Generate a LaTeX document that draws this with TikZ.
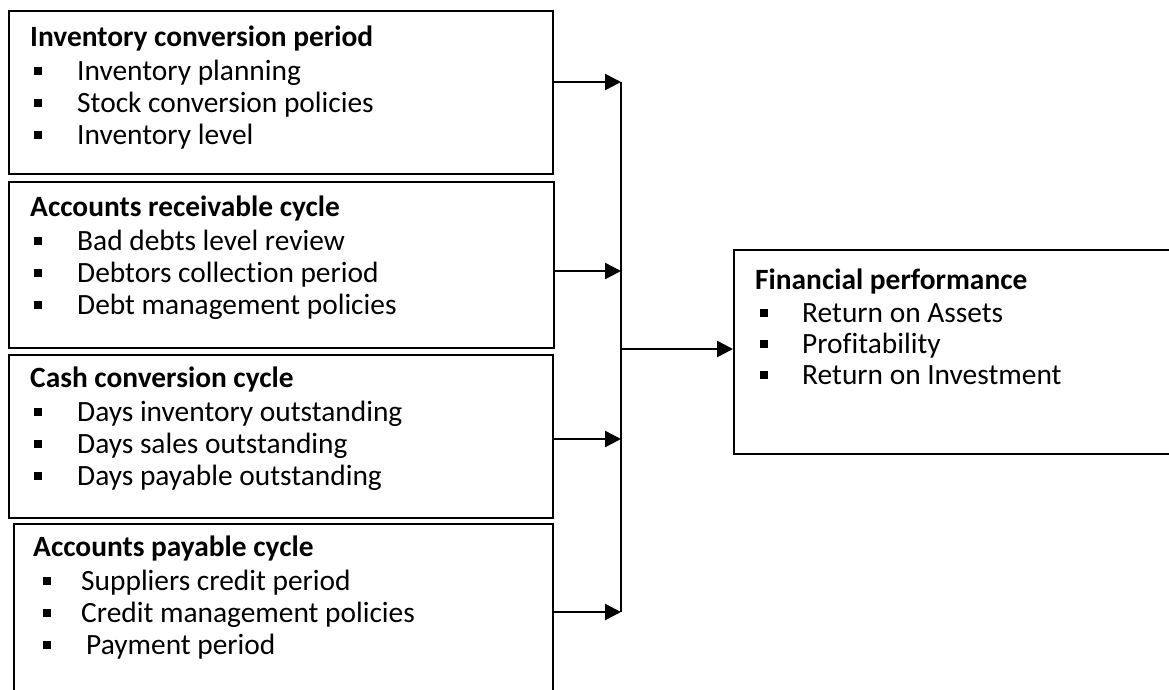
\documentclass[tikz,border=0pt]{standalone}
\usepackage{fontspec}
\setmainfont{Carlito}[Ligatures={NoCommon,NoContextual}]
\usetikzlibrary{arrows.meta,calc}
\tikzset{
  boxline/.style={draw=black, line width=2.4pt, inner sep=0pt, anchor=north west},
  ttl/.style={anchor=base west, inner sep=0pt, font=\fontsize{29.4}{34}\selectfont\bfseries},
  itm/.style={anchor=base west, inner sep=0pt, font=\fontsize{29.4}{34}\selectfont},
  bul/.style={fill=black, draw=none, minimum size=8.5pt, inner sep=0pt},
  arr/.style={line width=2.6pt, -{Triangle[length=16pt,width=16pt]}},
  bus/.style={line width=2.6pt}
}
\newcommand\myitem[5]{%
  \node[bul] (#1b) at (#2,#4-9) {};
  \node[itm] (#1) at (#3,#4) {#5};}
\begin{document}
\begin{tikzpicture}[x=1pt,y=-1pt]
\useasboundingbox (0,0) rectangle (1169,689);
\clip (0,0) rectangle (1169,689);
\fill[white] (0,0) rectangle (1169,689);
% boxes
\node[boxline, minimum width=544pt, minimum height=163pt] (b1) at (8,10) {};
\node[boxline, minimum width=545pt, minimum height=166pt] (b2) at (8,181) {};
\node[boxline, minimum width=544pt, minimum height=163pt] (b3) at (8,354) {};
\node[boxline, minimum width=539pt, minimum height=180pt] (b4) at (13,523) {};
\node[boxline, minimum width=450pt, minimum height=204pt] (fin) at (733,249) {};
% box 1
\node[ttl] (t1) at (30,46) {Inventory conversion period};
\myitem{i11}{38}{77}{80}{Inventory planning}
\myitem{i12}{38}{77}{112}{Stock conversion policies}
\myitem{i13}{38}{77}{144}{Inventory level}
% box 2
\node[ttl] (t2) at (30,216) {Accounts receivable cycle};
\myitem{i21}{38}{77}{250}{Bad debts level review}
\myitem{i22}{38}{77}{282}{Debtors collection period}
\myitem{i23}{38}{77}{314}{Debt management policies}
% box 3
\node[ttl] (t3) at (30,387) {Cash conversion cycle};
\myitem{i31}{38}{77}{421}{Days inventory outstanding}
\myitem{i32}{38}{77}{453}{Days sales outstanding}
\myitem{i33}{38}{77}{485}{Days payable outstanding}
% box 4
\node[ttl] (t4) at (33,556) {Accounts payable cycle};
\myitem{i41}{47}{81}{590}{Suppliers credit period}
\myitem{i42}{47}{81}{622}{Credit management policies}
\myitem{i43}{47}{86}{654}{Payment period}
% financial
\node[ttl] (t5) at (755,289) {Financial performance};
\myitem{i51}{764}{802}{322}{Return on Assets}
\myitem{i52}{764}{802}{353}{Profitability}
\myitem{i53}{764}{802}{384}{Return on Investment}
% connectors
\coordinate (j1) at (621,82);
\coordinate (j2) at (621,271);
\coordinate (j3) at (621,439);
\coordinate (j4) at (621,612);
\coordinate (jo) at (621,349);
\draw[bus] (j1) -- (j4);
\draw[arr] (b1.east |- j1) -- (j1);
\draw[arr] (b2.east |- j2) -- (j2);
\draw[arr] (b3.east |- j3) -- (j3);
\draw[arr] (b4.east |- j4) -- (j4);
\draw[arr] (jo) -- (fin.west |- jo);
\end{tikzpicture}
\end{document}
